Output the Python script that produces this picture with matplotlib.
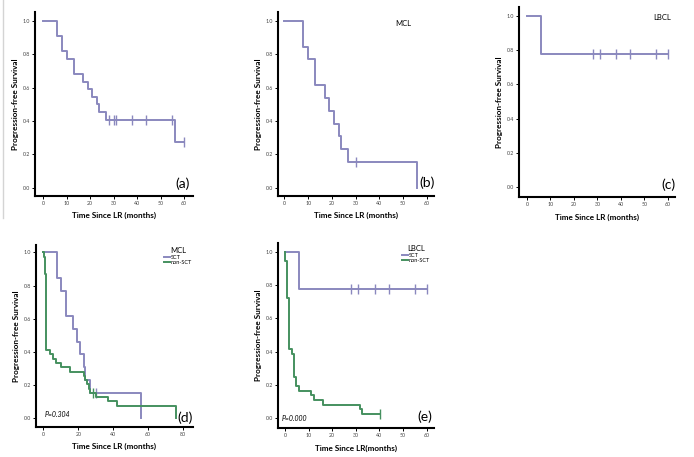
import numpy as np
import matplotlib
matplotlib.use("Agg")
import matplotlib.pyplot as plt
from matplotlib.lines import Line2D

PURPLE = "#8a88be"
GREEN = "#45905f"

# (a) all patients
a_times = [0, 6, 8, 10, 13, 17, 19, 21, 23, 24, 27, 56, 60]
a_surv = [1.0, 0.909, 0.818, 0.773, 0.682, 0.636, 0.591, 0.545, 0.5, 0.455, 0.409, 0.273, 0.273]
a_cens = [28, 30, 31, 38, 44, 55, 60]

# MCL, SCT
mcl_sct_times = [0, 8, 10, 13, 17, 19, 21, 23, 24, 27, 56]
mcl_sct_surv = [1.0, 0.846, 0.769, 0.615, 0.538, 0.462, 0.385, 0.308, 0.231, 0.154, 0.0]
mcl_sct_cens = [30]

# MCL, non-SCT
mcl_non_times = [0, 0.4, 1.1, 1.6, 4.0, 5.5, 7.0, 10, 15, 23, 24, 25, 26, 27, 30, 37, 42, 76]
mcl_non_surv = [1.0, 0.974, 0.872, 0.41, 0.385, 0.359, 0.333, 0.308, 0.282, 0.256, 0.231,
                0.205, 0.179, 0.154, 0.128, 0.103, 0.077, 0.0]
mcl_non_cens = [28.5]

# LBCL, SCT
lbcl_sct_times = [0, 6, 60]
lbcl_sct_surv = [1.0, 0.778, 0.778]
lbcl_sct_cens = [28, 31, 38, 44, 55, 60]

# LBCL, non-SCT
lbcl_non_times = [0, 0.2, 1.0, 1.8, 2.8, 3.8, 4.7, 5.8, 11.0, 12.2, 16.0, 31.8, 32.8, 40.3]
lbcl_non_surv = [1.0, 0.944, 0.722, 0.417, 0.389, 0.25, 0.194, 0.167, 0.139, 0.111, 0.083,
                 0.056, 0.028, 0.028]
lbcl_non_cens = [40.3]

plt.rcParams["font.family"] = ["Lato", "DejaVu Sans"]

W, H = 694, 457


def px_axes(fig, left, right, top, bottom):
    return fig.add_axes([left / W, 1 - bottom / H, (right - left) / W, (bottom - top) / H])


def km(ax, times, surv, cens, color):
    ax.step(times, surv, where="post", color=color, lw=1.4)
    idx = np.searchsorted(times, cens, side="right") - 1
    ax.plot(cens, np.array(surv)[idx], ls="none", marker="|", ms=6.5, mew=1.0, color=color)


def style(ax, xlim, ylim, xticks, xlabel):
    for s in ["top", "right"]:
        ax.spines[s].set_visible(False)
    for s in ["left", "bottom"]:
        ax.spines[s].set_linewidth(1.5)
    ax.set_xlim(*xlim)
    ax.set_ylim(*ylim)
    ax.set_xticks(xticks)
    ax.set_yticks([0.0, 0.2, 0.4, 0.6, 0.8, 1.0])
    ax.set_yticklabels(["0.0", "0.2", "0.4", "0.6", "0.8", "1.0"])
    ax.tick_params(labelsize=3.8, length=2, width=0.7, pad=1.5, labelcolor="#444444")
    ax.set_ylabel("Progression-free Survival", fontsize=5.9, fontweight="bold")
    ax.set_xlabel(xlabel, fontsize=5.9, fontweight="bold")
    ax.yaxis.set_label_coords(-0.10, 0.5)
    ax.xaxis.set_label_coords(0.5, -0.088)


def main():
    fig = plt.figure(figsize=(W / 100, H / 100), dpi=100)
    fig.add_artist(Line2D([2.5 / W, 2.5 / W], [1, 1 - 218 / H], color="#d4d4d4", lw=1))

    ticks60 = [0, 10, 20, 30, 40, 50, 60]

    # (a)
    ax = px_axes(fig, 35, 193, 12, 196)
    km(ax, a_times, a_surv, a_cens, PURPLE)
    style(ax, (-3.4, 63.8), (-0.05, 1.054), ticks60, "Time Since LR (months)")
    ax.text(0.937, 0.065, "(a)", transform=ax.transAxes, ha="center", va="center", fontsize=10)

    # (b)
    ax = px_axes(fig, 278, 434, 12, 196)
    km(ax, mcl_sct_times, mcl_sct_surv, mcl_sct_cens, PURPLE)
    style(ax, (-2.7, 63.1), (-0.05, 1.054), ticks60, "Time Since LR (months)")
    ax.text(0.955, 0.07, "(b)", transform=ax.transAxes, ha="center", va="center", fontsize=10)
    ax.text(0.80, 0.94, "MCL", transform=ax.transAxes, ha="center", va="center", fontsize=5.5)

    # (c)
    ax = px_axes(fig, 519, 675, 7, 197)
    km(ax, lbcl_sct_times, lbcl_sct_surv, lbcl_sct_cens, PURPLE)
    style(ax, (-3.4, 63.0), (-0.058, 1.053), ticks60, "Time Since LR (months)")
    ax.text(0.96, 0.063, "(c)", transform=ax.transAxes, ha="center", va="center", fontsize=10)
    ax.text(0.917, 0.947, "LBCL", transform=ax.transAxes, ha="center", va="center", fontsize=5.5)

    # (d)
    ax = px_axes(fig, 36, 193, 245, 427)
    km(ax, mcl_sct_times, mcl_sct_surv, mcl_sct_cens, PURPLE)
    km(ax, mcl_non_times, mcl_non_surv, mcl_non_cens, GREEN)
    style(ax, (-4.2, 85.7), (-0.052, 1.044), [0, 20, 40, 60, 80], "Time Since LR (months)")
    ax.text(0.949, 0.05, "(d)", transform=ax.transAxes, ha="center", va="center", fontsize=10)
    ax.text(0.057, 0.066, "P=0.304", transform=ax.transAxes, ha="left", va="center",
            fontsize=5, style="italic")
    handles = [Line2D([], [], color=PURPLE, lw=1.4), Line2D([], [], color=GREEN, lw=1.4)]
    ax.legend(handles, ["SCT", "non-SCT"], title="MCL", loc="upper right",
              bbox_to_anchor=(1.02, 1.01), fontsize=4, title_fontsize=5.5,
              frameon=False, handlelength=1.0, handletextpad=0.2,
              labelspacing=0.1, borderpad=0.2)

    # (e)
    ax = px_axes(fig, 277.7, 434, 243, 428)
    km(ax, lbcl_sct_times, lbcl_sct_surv, lbcl_sct_cens, PURPLE)
    km(ax, lbcl_non_times, lbcl_non_surv, lbcl_non_cens, GREEN)
    style(ax, (-3.1, 63.1), (-0.058, 1.052), ticks60, "Time Since LR(months)")
    ax.text(0.942, 0.06, "(e)", transform=ax.transAxes, ha="center", va="center", fontsize=10)
    ax.text(0.027, 0.054, "P=0.000", transform=ax.transAxes, ha="left", va="center",
            fontsize=5, style="italic")
    ax.legend(handles, ["SCT", "non-SCT"], title="LBCL", loc="upper right",
              bbox_to_anchor=(1.0, 1.01), fontsize=4, title_fontsize=5.5,
              frameon=False, handlelength=1.0, handletextpad=0.2,
              labelspacing=0.1, borderpad=0.2)

    fig.savefig("out.png", dpi=100)


if __name__ == "__main__":
    main()
